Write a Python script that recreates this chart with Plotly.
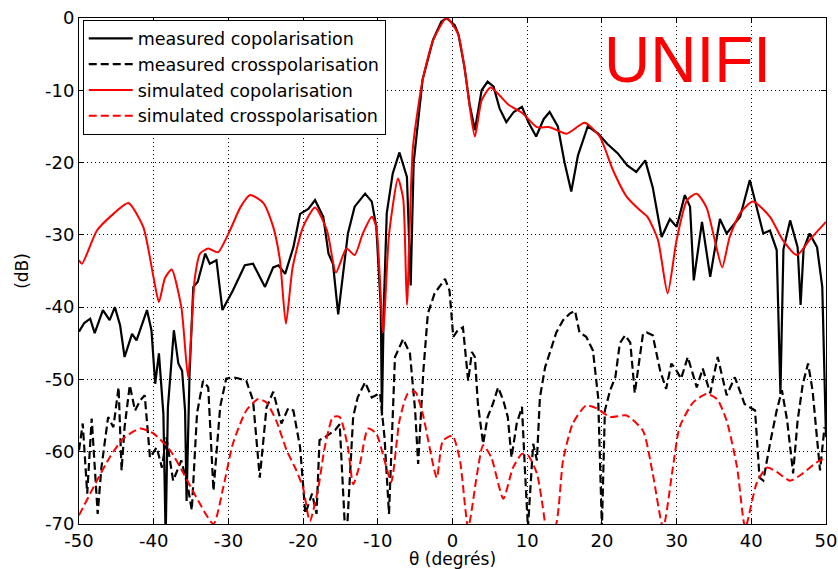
import plotly.graph_objects as go

# ---- data (theta in degrees, level in dB) ----
meas_co_x = [-50, -49.3, -48.5, -47.9, -46.8, -45.9, -45.2, -44.5, -43.9, -42.9, -42.3, -40.9, -40.3, -39.8, -39.3,
             -38.7, -38.4, -38.1, -37.3, -36.7, -36.2, -35.8, -35.6, -35.2, -34.7, -34.1, -33.1, -32.5, -31.6, -30.8,
             -29.4, -27.8, -26.7, -25.1, -24, -23.3, -22.4, -21.3, -20.4, -19.3, -18.4, -17.3, -16.6, -16, -15.3,
             -14.6, -14, -13.1, -11.7, -10.8, -10.2, -9.6, -9.45, -9.2, -8.8, -8.0, -7.1, -6.1, -5.6, -5.2, -4.0,
             -2.6, -1.5, -0.8, 0.3, 0.8, 1.6, 2.3, 3.0, 3.9, 4.7, 5.5, 6.3, 7.2, 8.2, 9.3, 10.2, 11.2, 12.2, 13,
             14.1, 15.0, 15.9, 16.8, 18.1, 19.5, 20.7, 22.1, 23.4, 24.6, 25.8, 26.8, 28, 29.1, 30, 31.1, 31.8, 32.3,
             33.4, 34.5, 35.8, 36.7, 38.5, 39.8, 41.6, 42.5, 43.4, 43.9, 44.3, 45.2, 46.2, 46.6, 47.0, 47.8, 48.8,
             49.5, 50]
meas_co_y = [-43.4, -42.2, -41.6, -43.6, -40.4, -41.8, -40, -42.5, -46.9, -43.7, -44.6, -40.4, -43.2, -50.6, -46.4,
             -54.8, -72, -53.9, -43.2, -47.8, -48.8, -54.3, -66.8, -49.2, -37.2, -36.5, -32.6, -34, -33.5, -40.4,
             -37.7, -34.2, -34, -37.2, -34.5, -34.2, -35.4, -31.7, -27.1, -26.4, -25.2, -27.5, -32.6, -34, -41,
             -34.5, -29.8, -26.1, -24.3, -25.4, -28.9, -40, -55, -40, -27, -21.5, -18.6, -22, -37, -20, -8.5,
             -3, -0.5, 0, -1, -2.3, -6.8, -12, -15.5, -10, -8.8, -9.5, -12.5, -14.4, -13, -12.3, -14.5, -16.4, -14, -13,
             -15, -20, -24, -19, -15, -16, -17.4, -18.7, -20.4, -21.3, -19.7, -23.4, -30.3, -27.8, -28.9, -24.5, -26.1, -36.3,
             -28.2, -35.8, -27.8, -29.8, -27.5, -22.4, -29.8, -29.4, -32.1, -52, -32, -28, -31.7, -39.7, -32, -29.8, -31.7,
             -37.2, -58]

meas_x_x = [-50, -49.5, -48.9, -48.3, -47.5, -47, -46.1, -45.4, -44.7, -44.3, -43.9, -43.2, -42.5, -41.8, -41.2,
            -40.5, -39.6, -38.9, -38.3, -37.4, -36.3, -35.4, -34.9, -34.2, -33.4, -32.7, -32, -31.1, -30.3, -29.4,
            -28.5, -27.6, -26.7, -25.8, -24.9, -24, -22.9, -22, -21.3, -20.4, -19.7, -18.8, -18.2, -17.8, -17.1,
            -16.4, -15.7, -15.1, -14.4, -14.1, -13.3, -12.7, -11.7, -10.8, -10.2, -9.7, -9.1, -8.5, -7.7, -6.6,
            -5.7, -5.0, -4.6, -3.9, -3.3, -2.4, -1, -0.4, 0.1, 0.7, 1.4, 2.1, 2.6, 3.0, 3.4, 4.1, 4.7, 5.4, 6.1,
            6.8, 7.4, 7.9, 8.6, 9.3, 9.7, 10.1, 10.8, 11.3, 11.7, 12.4, 13, 13.9, 14.8, 15.7, 16.4, 17, 17.9, 18.8,
            19.5, 20, 20.4, 21.1, 21.8, 22.4, 23.1, 23.8, 24.4, 25.1, 25.5, 26, 26.8, 27.8, 28.6, 29.3, 30, 30.6,
            31.5, 32.7, 33.5, 34.5, 35.5, 36.7, 37.8, 39.1, 40.5, 41.1, 41.6, 42.5, 43.4, 44.1, 44.8, 45.6, 46.2,
            46.9, 47.6, 48.2, 49.2, 49.8]
meas_x_y = [-59.8, -56.1, -65.8, -55.4, -68.6, -62.2, -55.2, -56.6, -51.1, -62.6, -56.6, -50.8, -54.3, -52.9, -52.2,
            -60.8, -59.4, -62.2, -58, -64, -61.2, -65, -68.1, -54.7, -50.2, -51.1, -65.4, -53.8, -49.9, -49.7,
            -49.9, -50.2, -52.9, -63.6, -53.9, -51.7, -56.1, -54, -54.3, -59.4, -68.6, -65.8, -68.6, -58.4, -58,
            -57.5, -57, -56.2, -70.5, -70.5, -55.2, -52.5, -50.4, -52.5, -52.2, -51.9, -58, -68.6, -46.9, -44.4,
            -46.4, -54.3, -61.7, -48.8, -40.9, -38.1, -36.1, -37.7, -44.1, -43.2, -42.8, -50.2, -46.2, -46.9, -53.4, -58.9, -55.2, -53.4, -51.1,
            -52.9, -55.2, -60.8, -56.1, -53.8, -62.6, -70.5, -58.9, -61.2, -52.5, -48.3, -46.4, -43.5, -41.8, -40.9, -40.5, -43.5, -44.1, -46,
            -52.5, -70.5, -54.3, -51.5, -49.7, -45.0, -43.9, -44.9, -51.9, -46.4, -43.7, -43.5, -43.9, -48.8, -51.3, -47.8, -48.8, -49.9,
            -46.9, -51.1, -48.5, -51.9, -46.9, -52.2, -49.7, -53.4, -54.3, -63.6, -64, -58.9, -54.3, -51.5, -55.7, -63, -55.7,
            -50.6, -47.8, -51.5, -62.6, -56.6]

sim_co_x = [-50, -49.6, -47.6, -45.5, -43.4, -41.4, -40, -39.3, -38.5, -37.6, -36.3, -35.4, -34.5, -33.8, -32.7,
            -31.4, -29.8, -28.4, -27.1, -25.3, -24, -23.1, -22.3, -21.4, -20, -18.4, -16.8, -15.6, -14.2, -13.1,
            -12, -10.8, -10.2, -9.3, -8.5, -7.3, -6.6, -6.1, -5.3, -4, -2.6, -0.8, 0.7, 1.6, 2.3, 3.0, 3.9, 5.1,
            7.5, 9.4, 11.3, 13, 15.3, 17.7, 19.7, 21.5, 23.3, 25.1, 26.1, 27.5, 28.8, 30, 31.4, 32.7, 34.0, 35.1,
            36.1, 37.1, 38.5, 40.2, 42.5, 44.2, 46.1, 47.8, 50]
sim_co_y = [-33.5, -34, -29.4, -27.2, -25.6, -28.9, -36, -39.3, -36, -34.8, -40, -49.7, -36, -32.6, -31.9,
            -32.4, -29.4, -26.2, -24.5, -25.6, -28.9, -33.5, -42.3, -34.5, -28.9, -26.2, -29.4, -35.2, -31.9, -32.8,
            -29.8, -27.5, -28.9, -43.5, -30, -22.2, -25, -39.7, -17.9, -8.6, -3.1, 0, -2.1, -6.8, -12.3, -16.4, -11.4, -9.6,
            -12.0, -13.2, -15.1, -15.1, -16.0, -14.5, -16.4, -21.1, -24.7, -26.6, -27.5, -30.7, -38.1, -30.7, -25.2, -24.3, -26.2, -30.7,
            -34.5, -30.3, -27.0, -25.4, -27.5, -30.7, -32.8, -30.7, -28.2]

sim_x_x = [-50, -47.6, -45.9, -44.1, -41.8, -40, -37.8, -36, -34.3, -32, -30.7, -29.4, -27.6, -26, -24.9,
           -23.6, -22.2, -20.9, -20, -19.1, -18, -17.1, -16, -15.1, -14, -13.3, -12.4, -11.3, -10.2, -9.1, -8.2,
           -7.1, -6.0, -5.0, -4, -2.1, -1.3, 0, 1, 2.1, 3.3, 4.1, 5.2, 6.8, 8.1, 9.3, 10.1, 11.3, 12.1, 12.6,
           13.7, 14.8, 16.1, 17.9, 19.3, 21.1, 23.3, 25.5, 26.8, 28.2, 29.5, 30.4, 32.2, 34, 35.4, 36.7, 38.1,
           39.2, 40.7, 42.1, 43.4, 45.2, 46.9, 48.7, 50]
sim_x_y = [-68.8, -64, -60.8, -58.2, -56.8, -57.5, -59.8, -63, -66.3, -70, -65, -58.9, -54.3, -52.7, -53.2,
           -55.7, -59.8, -62.6, -65, -69.6, -65.2, -59.4, -55.2, -55.2, -59.4, -64.5, -61.7, -56.8, -57.5, -61.2, -64.2,
           -55.7, -52, -51.7, -54.7, -63.6, -58.5, -57.8, -61.2, -70.5, -63.0, -59.1, -60.8, -66.5, -62.2, -60.3, -60.5, -63, -67.7, -70.5,
           -70.5, -61.2, -56.1, -53.6, -54, -55.2, -55, -57.1, -63, -70.5, -62.2, -56.6, -53.2, -52, -52.7, -55.7, -62.2,
           -70.5, -64.4, -62.2, -62.8, -64, -63, -61.5, -60.8]

x_ticks = [-50, -40, -30, -20, -10, 0, 10, 20, 30, 40, 50]
x_tick_labels = ["-50", "-40", "-30", "-20", "-10", "0", "10", "20", "30", "40", "50"]
y_ticks = [-70, -60, -50, -40, -30, -20, -10, 0]
y_tick_labels = ["-70", "-60", "-50", "-40", "-30", "-20", "-10", "0"]

FONT = "DejaVu Sans, Liberation Sans, sans-serif"

fig = go.Figure()
fig.add_trace(go.Scatter(x=meas_co_x, y=meas_co_y, mode="lines", name="measured copolarisation",
                         line=dict(color="black", width=2.2)))
fig.add_trace(go.Scatter(x=meas_x_x, y=meas_x_y, mode="lines", name="measured crosspolarisation",
                         line=dict(color="black", width=2.2, dash="8px,4px")))
fig.add_trace(go.Scatter(x=sim_co_x, y=sim_co_y, mode="lines", name="simulated copolarisation",
                         line=dict(color="red", width=2, shape="spline", smoothing=0.6)))
fig.add_trace(go.Scatter(x=sim_x_x, y=sim_x_y, mode="lines", name="simulated crosspolarisation",
                         line=dict(color="red", width=2, dash="8px,4px", shape="spline", smoothing=0.6)))

axis_common = dict(showline=True, linecolor="black", linewidth=1, mirror="ticks", ticks="inside",
                   ticklen=5, tickcolor="black", showgrid=True, gridcolor="black", gridwidth=1,
                   griddash="1px,3px", zeroline=False, automargin=False,
                   tickfont=dict(family=FONT, size=18, color="black"))

fig.update_xaxes(range=[-50, 50], tickvals=x_ticks, ticktext=x_tick_labels,
                 title=dict(text="θ (degrés)", font=dict(family=FONT, size=17, color="black"), standoff=2),
                 **axis_common)
fig.update_yaxes(range=[-70, 0], tickvals=y_ticks, ticktext=y_tick_labels,
                 title=dict(text="(dB)", font=dict(family=FONT, size=17, color="black"), standoff=12),
                 **axis_common)

fig.add_annotation(text="UNIFI", xref="paper", yref="paper", x=0.815, y=0.917, showarrow=False,
                   font=dict(family="Liberation Sans, Arial, sans-serif", size=64, color="red"),
                   xanchor="center", yanchor="middle")

fig.update_layout(
    width=838, height=569,
    margin=dict(l=79, r=12, t=18, b=45),
    plot_bgcolor="white", paper_bgcolor="white",
    legend=dict(x=0.005, y=0.997, xanchor="left", yanchor="top", bgcolor="white",
                bordercolor="black", borderwidth=1, itemwidth=44,
                font=dict(family=FONT, size=17.5, color="black"), tracegroupgap=0),
)

fig.write_html("out.html")
